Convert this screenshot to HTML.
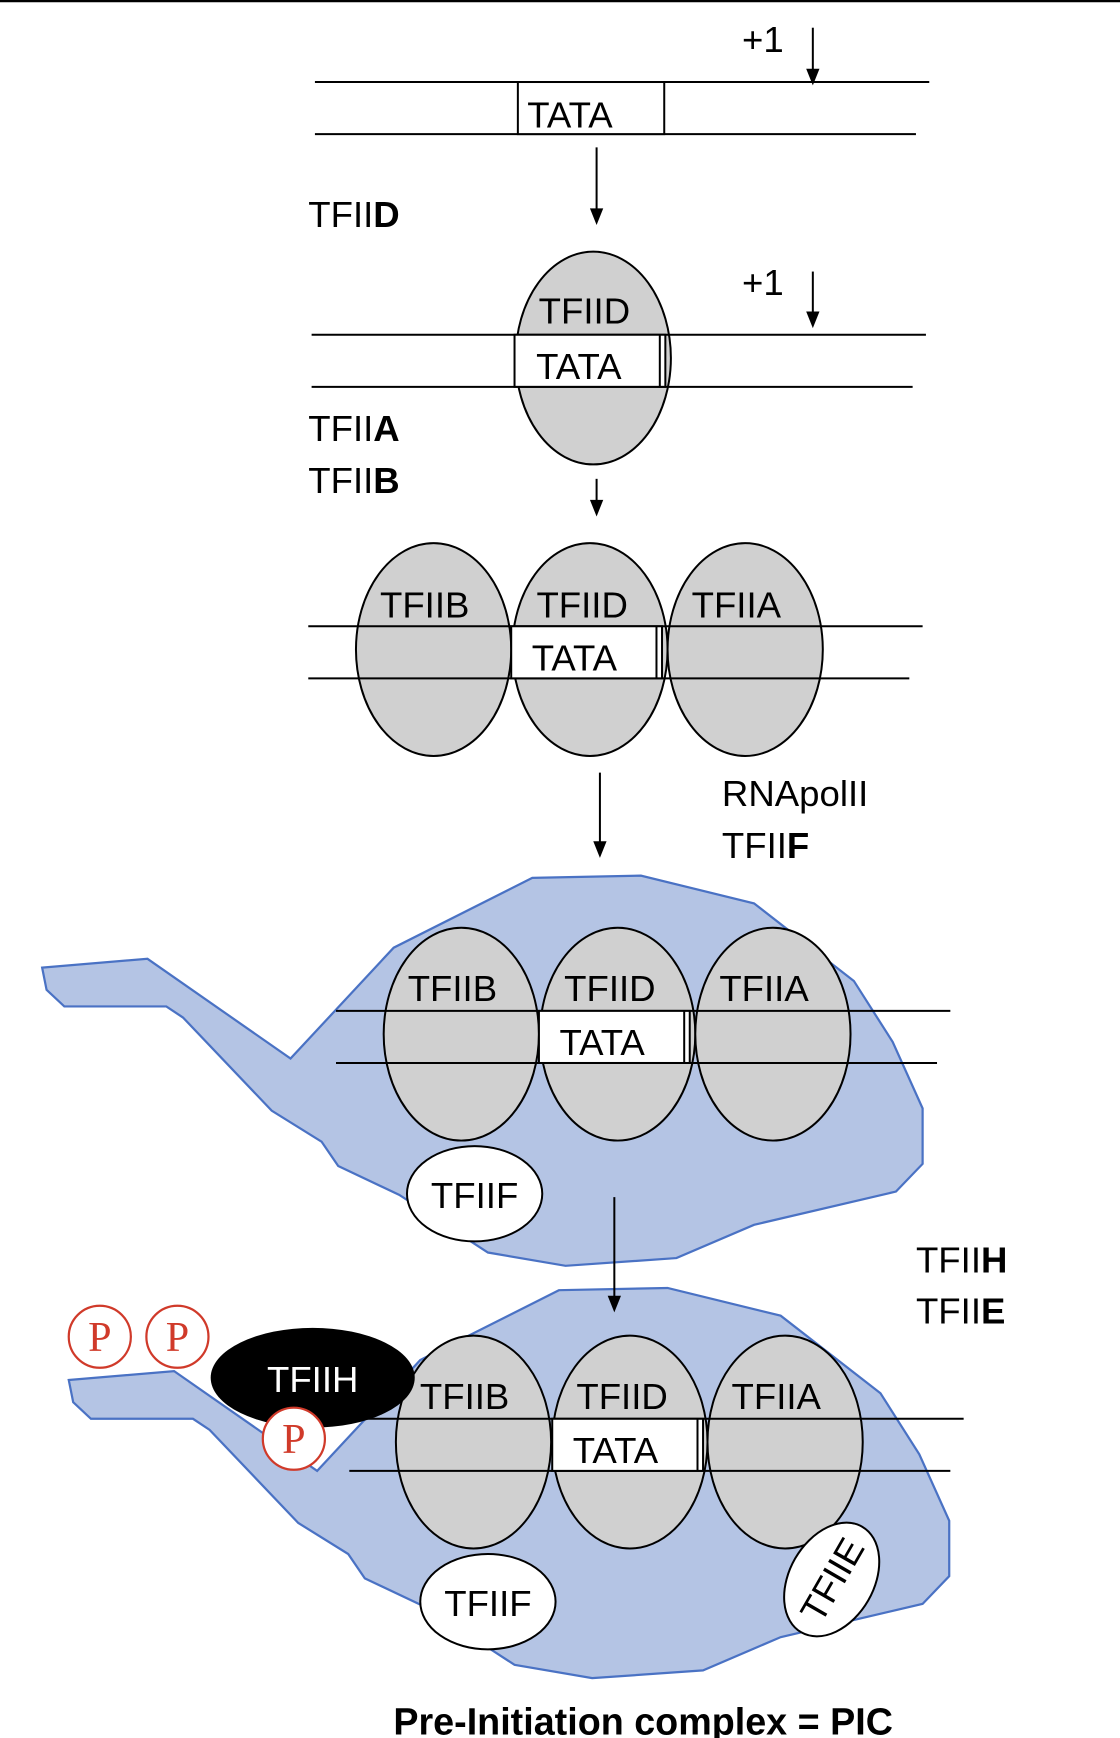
<!DOCTYPE html>
<html><head><meta charset="utf-8"><style>
html,body{margin:0;padding:0;background:#fff;}
svg{display:block;}
text{font-family:"Liberation Sans",sans-serif;}
text.ser{font-family:"Liberation Serif",serif;}
</style></head><body>
<svg width="1120" height="1738" viewBox="0 0 1010 1568" preserveAspectRatio="none" xmlns="http://www.w3.org/2000/svg">
<line x1="0" y1="1" x2="1010" y2="1" stroke="#000" stroke-width="2"/>
<g stroke="#000" stroke-width="1.8" fill="none">
<line x1="284" y1="74" x2="838" y2="74"/><line x1="284" y1="121" x2="826" y2="121"/>
<line x1="733" y1="25" x2="733" y2="66"/>
<line x1="538" y1="133" x2="538" y2="192"/>
<line x1="733" y1="245" x2="733" y2="285"/>
<line x1="538" y1="432" x2="538" y2="455"/>
<line x1="541" y1="697" x2="541" y2="763"/>
</g>
<g fill="#000">
<path d="M727,62 L739,62 L733,77 z"/>
<path d="M532,188 L544,188 L538,203 z"/>
<path d="M727,281 L739,281 L733,296 z"/>
<path d="M532,451 L544,451 L538,466 z"/>
<path d="M535,759 L547,759 L541,774 z"/>
</g>
<rect x="467" y="74" width="132" height="47" fill="#fff" stroke="#000" stroke-width="1.8"/>
<g font-size="33" fill="#000">
<text x="514" y="115" text-anchor="middle">TATA</text>
<text x="688" y="47" text-anchor="middle">+1</text>
<text x="688" y="266" text-anchor="middle">+1</text>
<text x="278" y="205">TFII<tspan font-weight="bold">D</tspan></text>
<text x="278" y="398">TFII<tspan font-weight="bold">A</tspan></text>
<text x="278" y="445">TFII<tspan font-weight="bold">B</tspan></text>
<text x="651" y="727">RNApolII</text>
<text x="651" y="774">TFII<tspan font-weight="bold">F</tspan></text>
<text x="826" y="1148">TFII<tspan font-weight="bold">H</tspan></text>
<text x="826" y="1194">TFII<tspan font-weight="bold">E</tspan></text>
</g>
<g stroke="#000" stroke-width="1.8">
<ellipse cx="535" cy="323" rx="70" ry="96" fill="#d0d0d0"/>
<line x1="281" y1="302" x2="835" y2="302"/><line x1="281" y1="349" x2="823" y2="349"/>
<rect x="464" y="302" width="136" height="47" fill="#fff"/><line x1="595" y1="302" x2="595" y2="349"/>
</g>
<g font-size="33" text-anchor="middle"><text x="527" y="292">TFIID</text><text x="522" y="342">TATA</text></g>
<g stroke="#000" stroke-width="1.8" fill="#d0d0d0">
<ellipse cx="391" cy="586" rx="70" ry="96"/><ellipse cx="532" cy="586" rx="70" ry="96"/><ellipse cx="672" cy="586" rx="70" ry="96"/>
<line x1="278" y1="565" x2="832" y2="565"/><line x1="278" y1="612" x2="820" y2="612"/>
<rect x="461" y="565" width="136" height="47" fill="#fff"/><line x1="592" y1="565" x2="592" y2="612"/>
</g>
<g font-size="33" text-anchor="middle"><text x="383" y="557">TFIIB</text><text x="525" y="557">TFIID</text><text x="664" y="557">TFIIA</text><text x="518" y="605">TATA</text></g>
<polygon points="38,873 133,865 262,955 355,855 480,792 578,790 680,815 770,885 805,940 832,1000 832,1050 808,1075 680,1105 610,1135 510,1142 440,1130 360,1078 305,1052 290,1030 245,1002 165,918 150,908 58,908 42,893" fill="#b4c4e4" stroke="#4a72c4" stroke-width="2"/>
<g stroke="#000" stroke-width="1.8" fill="#d0d0d0">
<ellipse cx="416" cy="933" rx="70" ry="96"/><ellipse cx="557" cy="933" rx="70" ry="96"/><ellipse cx="697" cy="933" rx="70" ry="96"/>
<line x1="303" y1="912" x2="857" y2="912"/><line x1="303" y1="959" x2="845" y2="959"/>
<rect x="486" y="912" width="136" height="47" fill="#fff"/><line x1="617" y1="912" x2="617" y2="959"/>
<ellipse cx="428" cy="1077" rx="61" ry="43" fill="#fff"/>
</g>
<g font-size="33" text-anchor="middle"><text x="408" y="903">TFIIB</text><text x="550" y="903">TFIID</text><text x="689" y="903">TFIIA</text><text x="543" y="952">TATA</text><text x="428" y="1090">TFIIF</text></g>
<polygon transform="translate(24,372)" points="38,873 133,865 262,955 355,855 480,792 578,790 680,815 770,885 805,940 832,1000 832,1050 808,1075 680,1105 610,1135 510,1142 440,1130 360,1078 305,1052 290,1030 245,1002 165,918 150,908 58,908 42,893" fill="#b4c4e4" stroke="#4a72c4" stroke-width="2"/>
<line x1="554" y1="1080" x2="554" y2="1173" stroke="#000" stroke-width="1.8"/>
<path d="M548,1169 L560,1169 L554,1184 z" fill="#000"/>
<g stroke="#000" stroke-width="1.8" fill="#d0d0d0">
<ellipse cx="427" cy="1301" rx="70" ry="96"/><ellipse cx="568" cy="1301" rx="70" ry="96"/><ellipse cx="708" cy="1301" rx="70" ry="96"/>
<line x1="315" y1="1280" x2="869" y2="1280"/><line x1="315" y1="1327" x2="857" y2="1327"/>
<rect x="498" y="1280" width="136" height="47" fill="#fff"/><line x1="629" y1="1280" x2="629" y2="1327"/>
<ellipse cx="440" cy="1445" rx="61" ry="43" fill="#fff"/>
<ellipse cx="750" cy="1425" rx="55" ry="38" fill="#fff" transform="rotate(-60 750 1425)"/>
</g>
<ellipse cx="282" cy="1243" rx="92" ry="45" fill="#000"/>
<g font-size="33" text-anchor="middle"><text x="419" y="1271">TFIIB</text><text x="561" y="1271">TFIID</text><text x="700" y="1271">TFIIA</text><text x="555" y="1320">TATA</text><text x="440" y="1458">TFIIF</text>
<text x="750" y="1437" transform="rotate(-60 750 1425)">TFIIE</text>
<text x="282" y="1256" fill="#fff">TFIIH</text></g>
<g stroke="#d03a2a" stroke-width="2" fill="#fff">
<circle cx="90" cy="1206" r="28"/><circle cx="160" cy="1206" r="28"/><circle cx="265" cy="1298" r="28"/>
</g>
<g font-size="38" fill="#d03a2a" text-anchor="middle">
<text class="ser" x="90" y="1219">P</text><text class="ser" x="160" y="1219">P</text><text class="ser" x="265" y="1311">P</text></g>
<text x="580" y="1565" font-size="34" font-weight="bold" text-anchor="middle">Pre-Initiation complex = PIC</text>
</svg>
</body></html>
